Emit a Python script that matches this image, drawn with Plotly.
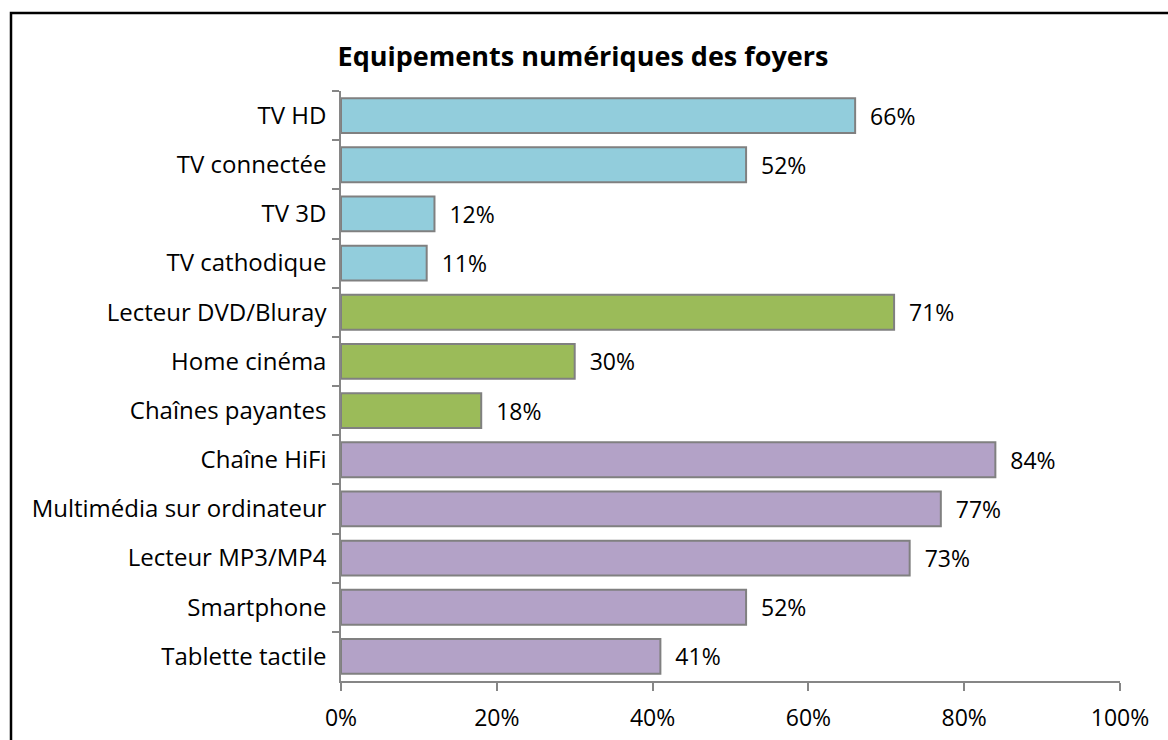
import plotly.graph_objects as go

# data
categories = [
    "TV HD", "TV connectée", "TV 3D", "TV cathodique",
    "Lecteur DVD/Bluray", "Home cinéma", "Chaînes payantes",
    "Chaîne HiFi", "Multimédia sur ordinateur", "Lecteur MP3/MP4",
    "Smartphone", "Tablette tactile",
]
values = [66, 52, 12, 11, 71, 30, 18, 84, 77, 73, 52, 41]
groups = ["tv"] * 4 + ["video"] * 3 + ["audio"] * 5
x_ticks = [0, 20, 40, 60, 80, 100]
x_tick_labels = ["0%", "20%", "40%", "60%", "80%", "100%"]

COLORS = {"tv": "#92CDDC", "video": "#9BBB59", "audio": "#B3A2C7"}
FONT = "Open Sans, Calibri, sans-serif"

# full-window figure (body margin removed in post_script below)
W, H = 1168, 740
PLOT_L, PLOT_R, PLOT_T, PLOT_B = 341, 1120, 91, 681  # screen px

fig = go.Figure(go.Bar(
    x=values,
    y=categories,
    orientation="h",
    width=0.71,
    marker=dict(color=[COLORS[g] for g in groups],
                line=dict(color="#808080", width=2)),
    text=[f"\u00a0\u00a0{v}%" for v in values],
    textposition="outside",
    textfont=dict(size=23, color="#000000", family=FONT),
    cliponaxis=False,
    hoverinfo="x+y",
))

pw = PLOT_R - PLOT_L
ph = PLOT_B - PLOT_T

fig.update_layout(
    width=W, height=H,
    paper_bgcolor="white", plot_bgcolor="white",
    margin=dict(l=PLOT_L, r=W - PLOT_R, t=PLOT_T, b=H - PLOT_B),
    font=dict(family=FONT, color="#000000", size=23),
    title=dict(text="<b>Equipements numériques des foyers</b>",
               x=583 / W, xanchor="center", y=1 - 57 / H, yanchor="middle",
               font=dict(size=27, family=FONT, color="#000000")),
    showlegend=False,
    xaxis=dict(
        range=[0, 100], tickvals=x_ticks, ticktext=x_tick_labels,
        showgrid=False, zeroline=False, automargin=False,
        showline=True, linecolor="#868686", linewidth=1.5,
        ticks="outside", ticklen=8, tickcolor="#868686", tickwidth=1.5,
        ticklabelstandoff=8,
        tickfont=dict(size=23, family=FONT),
    ),
    yaxis=dict(
        autorange="reversed", automargin=False,
        showgrid=False, zeroline=False,
        showline=True, linecolor="#868686", linewidth=1.5,
        ticks="outside", ticklen=7, tickcolor="#868686", tickwidth=1.5,
        tickson="boundaries", ticklabelstandoff=8,
        tickfont=dict(size=24, family=FONT),
    ),
    shapes=[dict(
        type="rect", xref="paper", yref="paper",
        x0=(11 - PLOT_L) / pw, x1=(1190 - PLOT_L) / pw,
        y0=(PLOT_B - 760) / ph, y1=(PLOT_B - 13) / ph,
        line=dict(color="#000000", width=2.5), fillcolor="rgba(0,0,0,0)",
        layer="below",
    )],
)

fig.write_html("out.html", config={"displayModeBar": False},
               post_script="document.body.style.margin='0';")
